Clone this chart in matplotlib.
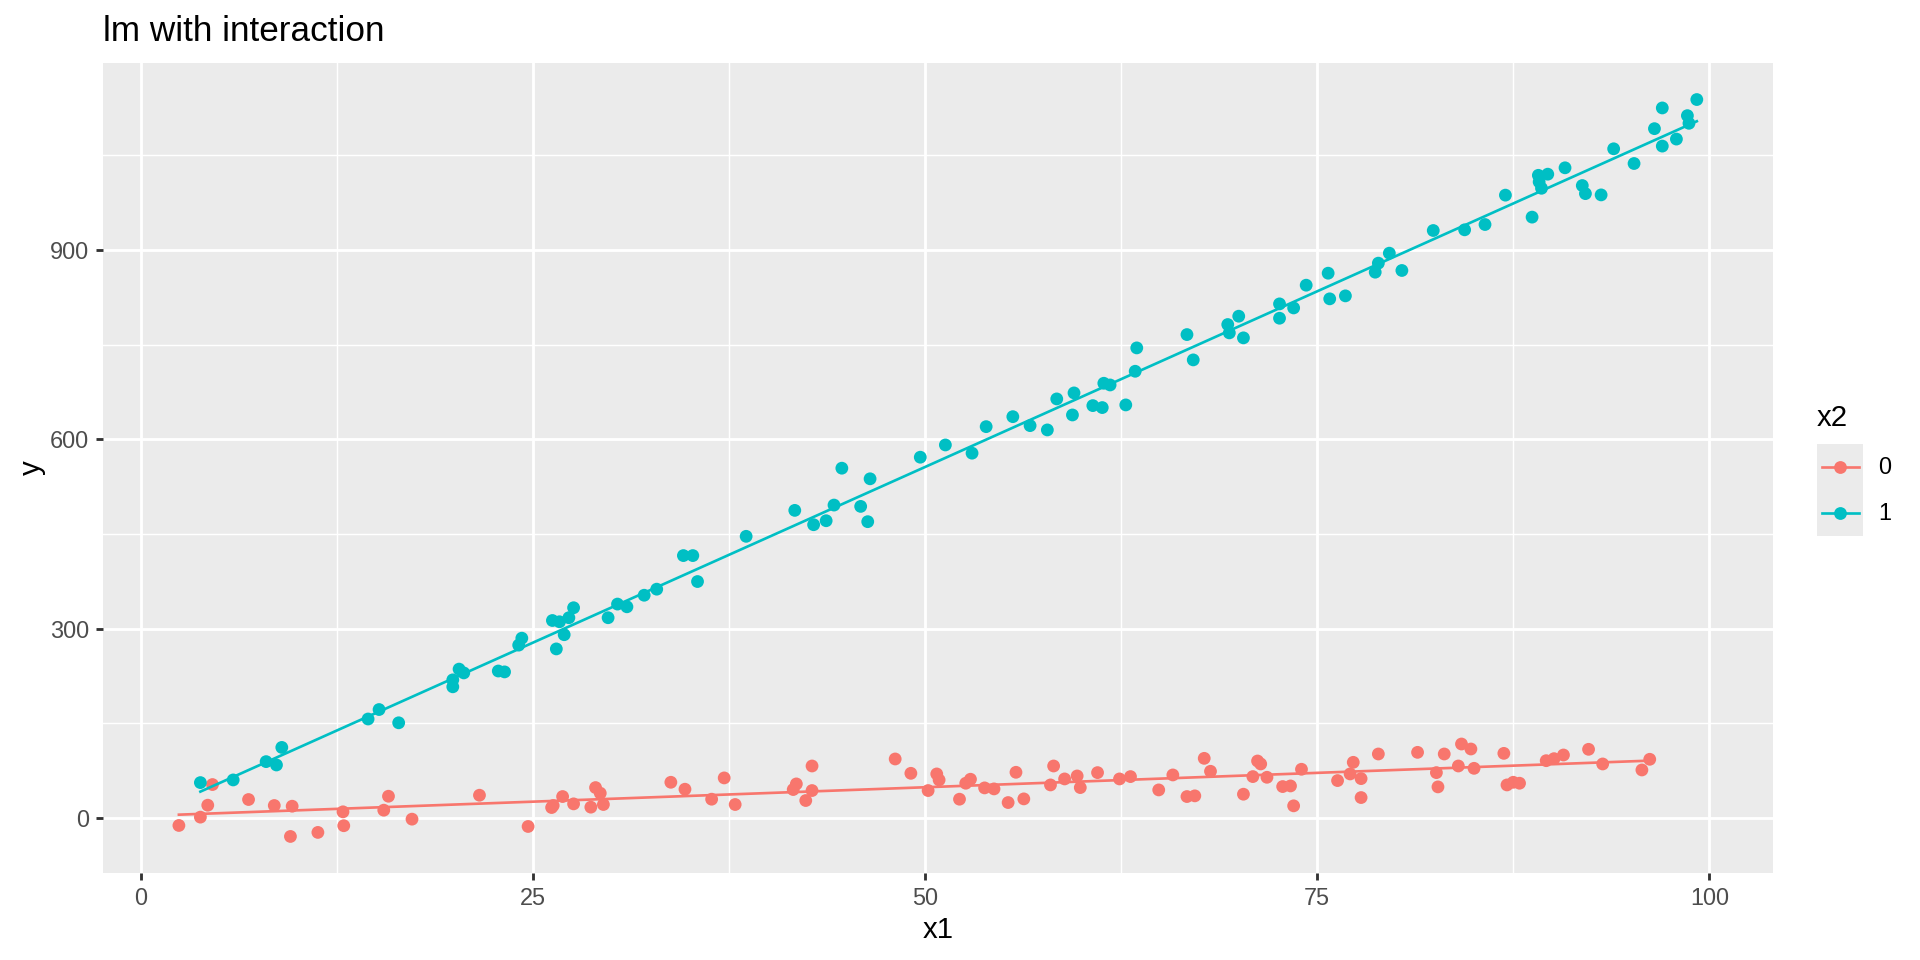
import numpy as np
import matplotlib.pyplot as plt
from matplotlib.lines import Line2D
from matplotlib.patches import Rectangle

plt.rcParams["font.family"] = ["Liberation Sans", "DejaVu Sans"]

# ---- data (group x2 = 0) ----
x1_g0 = [2.44, 3.81, 4.28, 4.58, 6.88, 8.52, 9.66, 9.55, 11.3, 12.9, 12.95, 15.5, 15.8,
         17.3, 21.6, 24.7, 26.2, 26.3, 26.9, 27.6, 28.7, 29.0, 29.3, 29.5,
         33.8, 34.7, 36.4, 37.2, 37.9, 41.6, 41.8, 42.4, 42.8, 42.8, 48.1, 49.1, 50.2,
         50.75, 50.9, 52.2, 52.6, 52.9, 53.8, 54.4, 55.3, 55.8, 56.3, 58.0, 58.2, 58.9,
         59.7, 59.9, 61.0, 62.4, 63.1, 64.9, 65.8, 66.7, 67.2,
         67.8, 68.2, 70.3, 70.9, 71.2, 71.4, 71.8, 72.8, 73.3, 73.5, 74.0, 76.3, 77.1,
         77.3, 77.8, 77.8, 78.9, 81.4, 82.6, 82.7, 83.1, 84.0, 84.2, 84.8, 85.0, 86.9,
         87.1, 87.5, 87.9, 89.6, 90.1, 90.7, 92.3, 93.2, 95.7, 96.2]
y_g0 = [-11.6, 1.6, 20.5, 53.2, 29.5, 20.0, 18.9, -29.0, -22.6, 10.0, -12.0, 12.6, 34.7,
        -1.6, 36.3, -13.2, 16.8, 20.0, 34.2, 22.6, 17.4, 48.4, 39.5, 21.6,
        56.8, 45.8, 30.0, 63.7, 21.6, 45.3, 54.2, 27.9, 82.6, 43.7, 93.7, 71.0, 43.7,
        70.0, 60.5, 30.0, 55.3, 61.6, 47.9, 46.3, 24.7, 72.6, 30.5, 52.6, 82.6, 62.1,
        66.8, 48.4, 72.1, 62.1, 65.8, 44.7, 68.4, 34.2, 35.3,
        94.7, 74.2, 37.9, 65.8, 90.5, 85.8, 64.7, 50.0, 51.0, 19.5, 77.4, 59.5, 70.0,
        88.4, 62.6, 32.6, 101.6, 104.2, 72.1, 49.5, 101.6, 82.6, 117.4, 109.5, 78.9, 102.6,
        52.6, 56.8, 55.3, 91.0, 94.2, 100.0, 109.0, 85.8, 76.3, 93.2]

# ---- group x2 = 1 ----
x1_g1 = [3.81, 5.9, 8.0, 8.66, 9.0, 14.5, 15.2, 16.45, 19.9, 19.9, 20.3, 20.6, 22.8, 23.2,
         24.1, 24.3, 26.5,
         26.25, 26.7, 27.0, 27.3, 27.6, 29.8, 30.4, 31.0, 32.1, 32.9, 34.6, 35.2, 35.5,
         38.6, 41.7, 42.9, 43.7, 44.2, 44.7, 45.9, 46.5, 46.35, 49.7, 51.3, 53.0, 53.9,
         55.6, 56.7,
         57.8, 58.4, 59.4, 59.5, 60.7, 61.3, 61.4, 61.8, 62.8, 63.4, 63.5, 66.7, 67.1,
         69.3, 69.4, 70.0, 70.3, 72.6, 72.6, 73.5, 74.3, 75.7, 75.8, 76.8, 78.7, 78.9,
         79.6, 80.4, 82.4, 84.4, 85.7, 87.0, 88.7,
         89.1, 89.15, 89.3, 89.7, 90.8, 91.9, 92.1, 93.1, 93.9, 95.2, 96.5, 97.0, 97.0,
         97.9, 98.6, 98.7, 99.2]
y_g1 = [56.3, 60.5, 89.5, 84.2, 112.0, 157.0, 172.0, 151.0, 208.0, 219.0, 236.0, 230.0,
        233.0, 231.6, 274.0, 285.0, 268.0,
        313.0, 311.0, 290.5, 317.4, 333.2, 317.4, 339.0, 334.7, 353.0, 362.6, 415.8,
        415.8, 374.7, 446.3, 487.4, 464.7, 471.0, 495.8, 554.2, 493.7, 537.4, 469.5,
        571.6, 591.0, 578.0, 620.0, 635.8, 621.6,
        614.8, 663.9, 638.5, 673.4, 653.3, 650.2, 688.7, 686.0, 654.4, 707.7, 744.7,
        765.8, 725.7, 781.7, 768.5, 794.9, 760.6, 814.4, 791.7, 808.0, 844.0, 863.0,
        822.4, 827.1, 864.6, 878.9, 894.7, 867.3, 930.6, 931.7, 940.1, 986.6, 951.8,
        1018.0, 1007.6, 997.5, 1019.8, 1029.9, 1001.8, 989.0, 987.0, 1060.0, 1036.7,
        1091.9, 1124.7, 1064.3, 1075.4, 1112.5, 1100.4, 1138.0]

group_labels = ["0", "1"]
group_colors = ["#F8766D", "#00BFC4"]

x_breaks = [0, 25, 50, 75, 100]
y_breaks = [0, 300, 600, 900]

W, H = 1920, 960
fig = plt.figure(figsize=(10, 5), dpi=192)
ax = fig.add_axes([103 / W, 1 - 873.3 / H, (1772.7 - 103) / W, (873.3 - 62.7) / H])
ax.set_facecolor("#EBEBEB")
for s in ax.spines.values():
    s.set_visible(False)

groups = [(x1_g0, y_g0), (x1_g1, y_g1)]
for (xs, ys), col in zip(groups, group_colors):
    xs = np.asarray(xs)
    ys = np.asarray(ys)
    ax.scatter(xs, ys, s=23, color=col, edgecolors="none", zorder=3)
    b, a = np.polyfit(xs, ys, 1)
    xl = np.array([xs.min(), xs.max()])
    ax.plot(xl, a + b * xl, color=col, lw=1.0, zorder=4)

# ggplot-style 5% expansion of the data range
all_x = np.concatenate([x1_g0, x1_g1])
all_y = np.concatenate([y_g0, y_g1])
dx = 0.05 * (all_x.max() - all_x.min())
dy = 0.05 * (all_y.max() - all_y.min())
ax.set_xlim(all_x.min() - dx, all_x.max() + dx)
ax.set_ylim(all_y.min() - dy, all_y.max() + dy)

ax.set_xticks(x_breaks)
ax.set_yticks(y_breaks)
ax.set_xticks([12.5, 37.5, 62.5, 87.5], minor=True)
ax.set_yticks([150, 450, 750, 1050], minor=True)
ax.grid(True, which="major", color="white", lw=1.07, zorder=0)
ax.grid(True, which="minor", color="white", lw=0.53, zorder=0)
ax.set_axisbelow(True)
ax.tick_params(which="major", length=2.75, width=1.07, color="#333333",
               labelcolor="#4D4D4D", labelsize=8.8, pad=2.4)
ax.tick_params(which="minor", length=0)

# titles
fig.text(103 / W, 1 - 40.7 / H, "lm with interaction", fontsize=13.2,
         ha="left", va="baseline")
fig.text(938 / W, 1 - 930 / H, "x1", fontsize=11, ha="center", va="center")
fig.text(31.5 / W, 1 - 468 / H, "y", fontsize=11, ha="center", va="center",
         rotation=90)

# legend
fig.text(1817 / W, 1 - 418 / H, "x2", fontsize=11, ha="left", va="center")
fig.patches.append(Rectangle((1817 / W, 1 - 535.7 / H), 46 / W, 91.7 / H,
                             transform=fig.transFigure, facecolor="#EBEBEB",
                             edgecolor="none"))
for i, (lab, col) in enumerate(zip(group_labels, group_colors)):
    yc = 1 - (467.3 + 46 * i) / H
    fig.lines.append(Line2D([1821.7 / W, 1859 / W], [yc, yc], color=col, lw=1.0,
                            transform=fig.transFigure))
    fig.lines.append(Line2D([1840 / W], [yc], color=col, marker="o", markersize=4.8,
                            markeredgewidth=0, transform=fig.transFigure))
    fig.text(1878 / W, yc, lab, fontsize=8.8, ha="left", va="center")

fig.savefig("out.png", dpi=192)
